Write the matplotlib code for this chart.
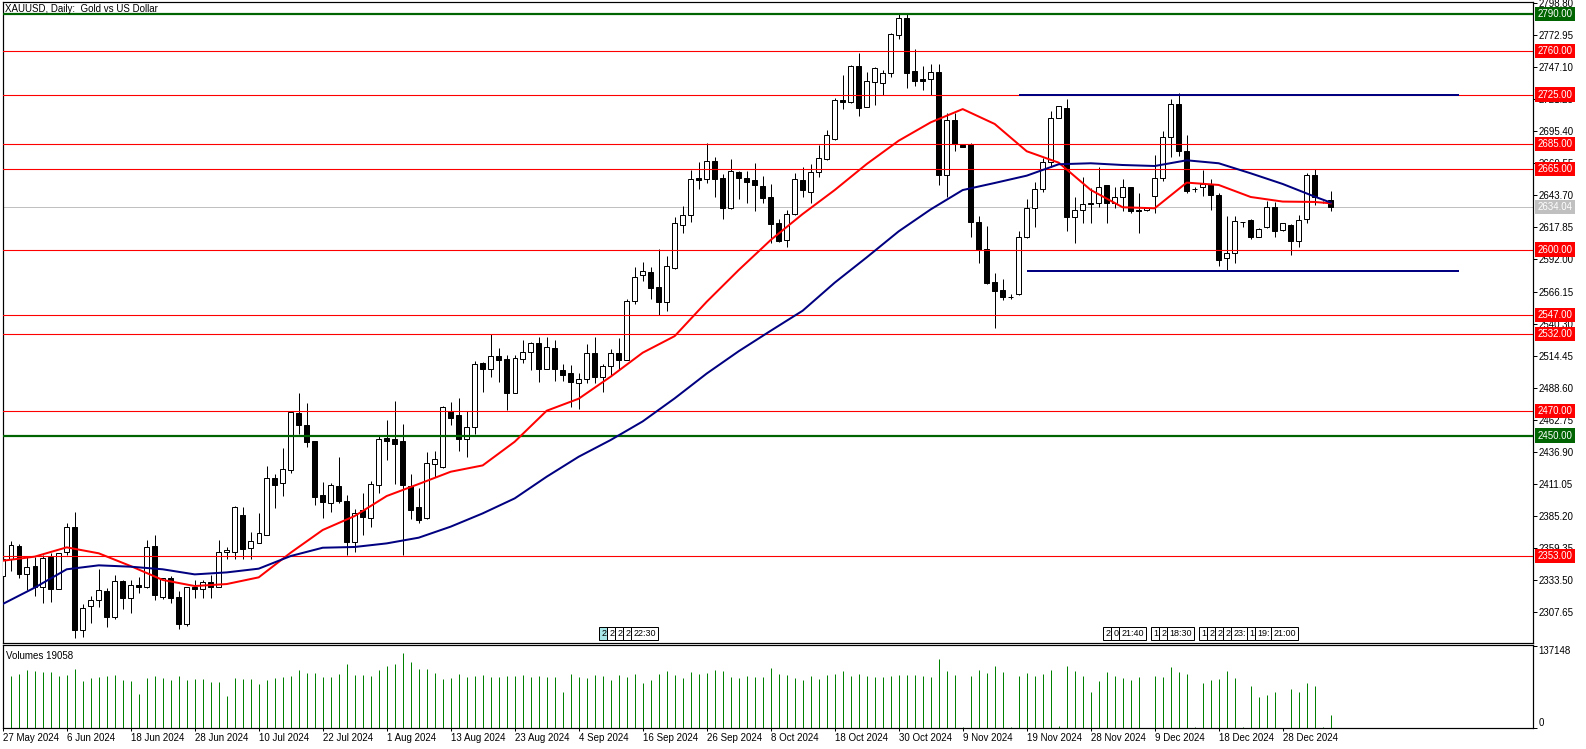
#!/usr/bin/env python3

import numpy as np
import matplotlib
matplotlib.use("Agg")
import matplotlib.pyplot as plt
import matplotlib.transforms as mtransforms


# -----------------------------------------------------------------------------
# XAUUSD daily candles with two moving averages, levels and volumes
# (MetaTrader style screenshot)
# -----------------------------------------------------------------------------

# CONFIG
W, H = 1586, 749
FONT = "Liberation Sans"
FS = 7

TITLE = "XAUUSD, Daily:  Gold vs US Dollar"
VOLUME_TITLE = "Volumes 19058"

# daily bars (index 0 = 27 May 2024)
OPEN = [
    2336.7, 2350.7, 2360.9, 2338.0, 2344.7, 2328.1, 2352.0, 2326.5, 2355.8, 2376.2,
    2293.4, 2312.2, 2317.1, 2324.3, 2303.3, 2332.6, 2318.7, 2329.4, 2328.1, 2360.9,
    2320.0, 2334.8, 2320.0, 2297.9, 2327.5, 2326.5, 2331.6, 2328.1, 2355.8, 2355.8,
    2385.9, 2359.5, 2363.6, 2370.0, 2415.7, 2412.0, 2422.4, 2468.2, 2458.5, 2445.6,
    2402.3, 2395.8, 2409.5, 2396.9, 2364.1, 2389.9, 2383.7, 2409.8, 2448.3, 2447.2,
    2445.3, 2409.3, 2392.6, 2383.7, 2427.3, 2424.3, 2469.8, 2466.5, 2447.5, 2456.6,
    2508.2, 2503.4, 2514.1, 2511.7, 2484.5, 2511.4, 2517.6, 2524.3, 2503.9, 2520.6,
    2502.8, 2500.4, 2492.1, 2495.3, 2516.6, 2496.9, 2506.3, 2516.6, 2511.2, 2558.2,
    2579.5, 2581.6, 2569.8, 2557.4, 2584.8, 2619.5, 2627.6, 2657.4, 2656.6, 2671.4,
    2657.7, 2633.8, 2662.5, 2657.7, 2656.1, 2651.2, 2642.4, 2621.1, 2607.7, 2628.7,
    2656.1, 2646.1, 2662.3, 2672.7, 2688.9, 2720.6, 2719.3, 2748.0, 2715.2, 2734.9,
    2734.0, 2742.1, 2772.8, 2786.7, 2744.0, 2737.3, 2737.3, 2743.2, 2660.4, 2704.5,
    2684.3, 2684.8, 2622.2, 2600.2, 2573.8, 2567.4, 2562.0, 2563.9, 2609.9, 2633.3,
    2648.6, 2670.9, 2705.9, 2713.9, 2626.0, 2631.9, 2637.3, 2637.3, 2651.8, 2637.3,
    2642.2, 2650.2, 2632.0, 2631.7, 2643.5, 2657.5, 2691.1, 2717.4, 2679.5, 2648.6,
    2650.2, 2652.6, 2644.0, 2593.0, 2597.0, 2622.5, 2623.9, 2610.4, 2618.0, 2634.1,
    2615.5, 2619.6, 2607.2, 2624.4, 2659.9, 2638.7, 2640.0,
]
HIGH = [
    2352.3, 2365.2, 2362.5, 2352.3, 2352.3, 2353.3, 2354.9, 2355.5, 2379.7, 2388.5,
    2314.1, 2320.5, 2342.6, 2327.0, 2337.2, 2333.4, 2333.4, 2336.1, 2365.7, 2369.7,
    2335.3, 2336.7, 2324.3, 2328.1, 2333.4, 2333.4, 2337.5, 2365.7, 2360.3, 2393.1,
    2392.6, 2372.4, 2387.8, 2425.4, 2418.9, 2439.9, 2469.5, 2484.6, 2475.9, 2445.6,
    2412.2, 2411.4, 2432.9, 2402.0, 2390.5, 2403.9, 2413.3, 2449.6, 2462.5, 2477.8,
    2459.0, 2418.7, 2407.4, 2437.0, 2437.2, 2473.8, 2477.0, 2480.3, 2470.0, 2510.1,
    2509.6, 2532.1, 2520.9, 2514.9, 2514.9, 2527.0, 2525.7, 2529.7, 2529.2, 2527.0,
    2507.7, 2506.9, 2500.7, 2523.8, 2529.7, 2507.7, 2519.5, 2528.9, 2560.1, 2585.7,
    2590.2, 2585.7, 2600.2, 2594.8, 2625.9, 2635.1, 2664.1, 2670.6, 2686.2, 2674.6,
    2660.9, 2673.0, 2663.6, 2663.1, 2669.8, 2659.3, 2652.9, 2624.3, 2631.9, 2662.0,
    2666.8, 2669.2, 2684.6, 2696.4, 2722.2, 2740.8, 2748.8, 2758.8, 2743.2, 2747.5,
    2744.8, 2774.4, 2790.0, 2790.0, 2761.7, 2748.0, 2749.6, 2749.6, 2709.8, 2709.8,
    2685.4, 2686.2, 2627.0, 2618.9, 2580.8, 2576.0, 2563.9, 2615.0, 2640.5, 2654.8,
    2673.6, 2711.8, 2715.8, 2721.5, 2642.2, 2658.3, 2649.4, 2666.4, 2652.4, 2650.8,
    2656.7, 2650.8, 2645.4, 2633.6, 2676.0, 2695.4, 2721.5, 2726.0, 2692.4, 2650.8,
    2664.2, 2656.7, 2645.9, 2627.0, 2627.0, 2622.5, 2624.4, 2617.2, 2639.5, 2638.7,
    2621.7, 2620.4, 2627.9, 2661.5, 2664.7, 2639.5, 2647.5,
]
LOW = [
    2334.8, 2341.0, 2334.8, 2325.4, 2320.5, 2315.2, 2316.0, 2325.9, 2353.9, 2286.9,
    2287.8, 2298.5, 2311.4, 2295.8, 2301.7, 2310.3, 2307.1, 2322.7, 2326.7, 2317.3,
    2317.9, 2315.2, 2294.2, 2296.3, 2318.7, 2318.7, 2318.7, 2327.5, 2350.1, 2350.1,
    2350.1, 2350.1, 2363.0, 2369.5, 2391.5, 2401.2, 2420.0, 2451.2, 2441.0, 2394.2,
    2383.7, 2388.6, 2395.8, 2353.6, 2356.3, 2369.8, 2376.5, 2403.4, 2430.3, 2410.9,
    2353.6, 2382.4, 2379.2, 2382.4, 2416.8, 2423.8, 2458.5, 2437.8, 2432.4, 2451.2,
    2485.1, 2497.5, 2493.4, 2470.6, 2484.0, 2508.8, 2502.8, 2493.4, 2503.4, 2494.2,
    2494.2, 2473.3, 2471.7, 2492.1, 2492.6, 2485.1, 2498.8, 2502.8, 2510.6, 2556.3,
    2574.9, 2560.4, 2547.2, 2550.7, 2584.0, 2613.6, 2622.2, 2649.1, 2653.9, 2642.6,
    2624.3, 2632.4, 2641.0, 2637.3, 2631.3, 2637.3, 2605.0, 2606.1, 2602.3, 2627.8,
    2642.6, 2637.8, 2658.2, 2672.2, 2688.3, 2713.6, 2718.5, 2708.0, 2714.7, 2716.8,
    2724.9, 2739.4, 2770.1, 2730.3, 2731.9, 2728.7, 2724.9, 2652.3, 2642.6, 2679.7,
    2682.4, 2610.4, 2589.4, 2572.2, 2536.4, 2559.3, 2560.2, 2563.4, 2609.4, 2618.5,
    2646.7, 2666.4, 2705.9, 2615.3, 2605.1, 2621.2, 2621.2, 2634.1, 2621.7, 2633.6,
    2630.9, 2629.8, 2613.1, 2631.4, 2629.8, 2655.3, 2675.0, 2675.2, 2645.9, 2646.5,
    2643.2, 2632.0, 2586.8, 2583.5, 2589.5, 2618.5, 2608.3, 2609.9, 2617.4, 2610.4,
    2615.3, 2595.9, 2602.4, 2621.2, 2636.0, 2637.8, 2631.1,
]
CLOSE = [
    2350.1, 2361.7, 2338.0, 2343.7, 2328.1, 2350.9, 2326.5, 2354.9, 2376.2, 2293.4,
    2310.6, 2317.1, 2325.4, 2303.9, 2332.4, 2319.2, 2329.1, 2328.1, 2359.8, 2321.3,
    2334.8, 2319.2, 2297.9, 2327.5, 2326.5, 2331.6, 2328.1, 2356.0, 2357.6, 2392.1,
    2358.7, 2364.9, 2371.4, 2415.4, 2410.3, 2422.7, 2469.0, 2458.5, 2445.0, 2400.7,
    2396.4, 2410.1, 2397.2, 2364.4, 2387.2, 2384.6, 2410.6, 2446.9, 2445.8, 2443.2,
    2410.1, 2389.9, 2381.9, 2427.6, 2430.8, 2473.0, 2464.4, 2447.5, 2456.6, 2507.4,
    2503.9, 2513.9, 2510.9, 2484.5, 2512.3, 2517.6, 2524.3, 2503.9, 2521.1, 2503.4,
    2499.1, 2492.9, 2495.3, 2516.6, 2496.9, 2505.8, 2516.3, 2511.2, 2558.5, 2577.6,
    2582.7, 2569.3, 2557.9, 2586.7, 2621.1, 2627.8, 2656.6, 2656.1, 2671.4, 2657.1,
    2633.8, 2663.3, 2657.9, 2654.7, 2652.3, 2641.8, 2620.9, 2606.6, 2628.7, 2656.6,
    2647.7, 2662.3, 2673.8, 2692.1, 2720.6, 2718.7, 2748.0, 2714.4, 2735.9, 2746.4,
    2742.1, 2773.8, 2786.7, 2742.6, 2735.7, 2736.2, 2743.2, 2660.4, 2704.2, 2685.4,
    2683.0, 2621.9, 2599.6, 2573.3, 2566.8, 2562.0, 2562.0, 2609.9, 2633.3, 2648.6,
    2670.9, 2705.9, 2715.8, 2626.0, 2631.9, 2636.8, 2636.5, 2650.2, 2637.3, 2642.2,
    2650.2, 2631.4, 2630.9, 2633.3, 2657.5, 2691.1, 2717.4, 2679.3, 2647.5, 2648.6,
    2652.6, 2643.8, 2591.6, 2597.0, 2622.8, 2622.5, 2610.4, 2616.3, 2634.1, 2615.3,
    2621.2, 2607.2, 2623.6, 2659.9, 2642.2, 2638.7, 2634.0,
]

# tick volumes, thousands
VOLUME_K = [
    88, 87, 90, 97, 95, 94, 94, 87, 89, 99,
    79, 84, 85, 87, 89, 80, 79, 57, 84, 87,
    84, 80, 87, 80, 82, 82, 77, 77, 53, 84,
    82, 82, 74, 80, 84, 85, 87, 97, 92, 92,
    85, 85, 90, 107, 89, 89, 87, 97, 104, 107,
    125, 110, 99, 99, 92, 82, 84, 90, 85, 87,
    89, 85, 85, 87, 87, 89, 85, 87, 85, 85,
    60, 90, 85, 84, 89, 87, 80, 89, 85, 90,
    75, 80, 90, 95, 89, 84, 94, 90, 92, 97,
    95, 85, 84, 87, 85, 85, 100, 90, 89, 84,
    80, 87, 82, 89, 90, 95, 87, 90, 87, 85,
    85, 87, 89, 89, 89, 87, 85, 115, 95, 89,
    1.7, 87, 97, 92, 104, 94, 2, 87, 92, 87,
    90, 97, 3, 104, 95, 87, 61, 79, 94, 87,
    84, 80, 85, 0.5, 87, 85, 102, 94, 90, 2,
    75, 80, 82, 95, 84, 2, 71, 52, 55, 60,
    0.5, 65, 61, 75, 70, 2, 21,
]

# moving averages
MA_BARS = list(range(0, 165, 4)) + [166]
RED_MA = [
    2349.0, 2352.3, 2359.8, 2355.0, 2344.7, 2333.5, 2328.6, 2330.2, 2335.6, 2355.5,
    2373.8, 2385.1, 2401.2, 2410.9, 2420.8, 2425.9, 2445.0, 2470.0, 2479.7, 2497.5,
    2516.8, 2530.2, 2557.9, 2583.5, 2607.7, 2628.7, 2648.0, 2669.0, 2687.8, 2702.6,
    2713.3, 2701.3, 2679.3, 2670.1, 2648.1, 2634.1, 2633.3, 2654.0, 2652.1, 2642.4,
    2638.7, 2638.4, 2637.3,
]
BLUE_MA = [
    2314.1, 2327.3, 2342.1, 2345.3, 2344.2, 2342.1, 2338.0, 2339.6, 2342.6, 2352.8,
    2359.5, 2360.1, 2363.0, 2367.6, 2376.5, 2387.2, 2399.3, 2416.8, 2432.9, 2446.4,
    2461.4, 2480.0, 2500.0, 2518.0, 2534.5, 2550.7, 2573.3, 2593.7, 2614.7, 2632.4,
    2648.0, 2653.7, 2659.6, 2668.8, 2669.6, 2668.2, 2667.4, 2672.0, 2669.6, 2661.5,
    2652.9, 2642.7, 2637.9,
]

# horizontal levels
RED_LEVELS = [2760.0, 2725.0, 2685.0, 2665.0, 2600.0, 2547.0, 2532.0, 2470.0, 2353.0]
GREEN_LEVELS = [2790.0, 2450.0]
LAST_PRICE = 2634.04

# range box drawn by hand (bar index start/end)
RANGE_TOP = 2725.0
RANGE_BOTTOM = 2583.0
RANGE_TOP_BARS = (127, 182)
RANGE_BOTTOM_BARS = (128, 182)

# price scale labels
PRICE_TICK_LABELS = [
    "2307.65", "2333.50", "2359.35", "2385.20", "2411.05", "2436.90", "2462.75",
    "2488.60", "2514.45", "2540.30", "2566.15", "2592.00", "2617.85", "2643.70",
    "2669.55", "2695.40", "2721.25", "2747.10", "2772.95", "2798.80",
]
VOLUME_TICK_LABELS = ["0", "137148"]

DATE_BARS = list(range(0, 161, 8))
DATE_LABELS = [
    "27 May 2024", "6 Jun 2024", "18 Jun 2024", "28 Jun 2024", "10 Jul 2024",
    "22 Jul 2024", "1 Aug 2024", "13 Aug 2024", "23 Aug 2024", "4 Sep 2024",
    "16 Sep 2024", "26 Sep 2024", "8 Oct 2024", "18 Oct 2024", "30 Oct 2024",
    "9 Nov 2024", "19 Nov 2024", "28 Nov 2024", "9 Dec 2024", "18 Dec 2024",
    "28 Dec 2024",
]

# calendar event markers at the bottom of the price pane
EVENT_BARS = [75, 76, 77, 78, 79, 138, 139, 140, 144, 145, 146,
              150, 151, 152, 153, 154, 156, 157, 159]
EVENT_TEXT = ["2", "2", "2", "2", "22:30", "2", "0", "21:40", "1", "2", "18:30",
              "1", "2", "2", "2", "23:", "1", "19:", "21:00"]

RED = "#ff0000"
GREEN = "#006400"
NAVY = "#000080"
VOL_GREEN = "#008000"

PX = 72.0 / 100.0  # one pixel in points


def px_axes(left, top, right, bottom):
    return [left / W, 1 - bottom / H, (right - left) / W, (bottom - top) / H]


def level_box(ax, y, text, color, tr):
    ax.text(1.0 + 4.5 / 1530, y, text, transform=tr, color="white",
            fontsize=FS, family=FONT, ha="left", va="center", zorder=10,
            clip_on=False,
            bbox=dict(boxstyle="square,pad=0.22", facecolor=color,
                      edgecolor="none"))


def draw_candles(ax):
    o = np.array(OPEN)
    h = np.array(HIGH)
    l = np.array(LOW)
    c = np.array(CLOSE)
    x = np.arange(len(o))
    up = c >= o

    ax.vlines(x, l, h, color="black", linewidth=PX, zorder=2)
    lo = np.minimum(o, c)
    hgt = np.abs(c - o)
    ax.bar(x[up], hgt[up], bottom=lo[up], width=0.55, facecolor="white",
           edgecolor="black", linewidth=PX, zorder=3)
    ax.bar(x[~up], hgt[~up], bottom=lo[~up], width=0.55, facecolor="black",
           edgecolor="black", linewidth=PX, zorder=3)


def main():
    fig = plt.figure(figsize=(W / 100, H / 100), dpi=100)
    fig.patch.set_facecolor("white")

    ax = fig.add_axes(px_axes(3, 2, 1533, 643))
    axv = fig.add_axes(px_axes(3, 645, 1533, 728))

    x0, x1 = 0.0375, 0.0375 + 1530 / 8
    for a in (ax, axv):
        a.set_xlim(x0, x1)
        for s in a.spines.values():
            s.set_linewidth(PX * 1.2)
            s.set_color("black")

    ax.set_ylim(2282.65, 2799.68)
    axv.set_ylim(0, 138820)

    # levels
    for lv in RED_LEVELS:
        ax.axhline(lv, color=RED, linewidth=PX * 1.1, zorder=4)
    for lv in GREEN_LEVELS:
        ax.axhline(lv, color=GREEN, linewidth=PX * 2.2, zorder=4)
    ax.axhline(LAST_PRICE, color="#c0c0c0", linewidth=PX, zorder=1)

    draw_candles(ax)

    # moving averages
    ax.plot(MA_BARS, RED_MA, color=RED, linewidth=PX * 2, zorder=5)
    ax.plot(MA_BARS, BLUE_MA, color=NAVY, linewidth=PX * 2, zorder=5)

    # range lines
    ax.plot(RANGE_TOP_BARS, [RANGE_TOP, RANGE_TOP], color=NAVY,
            linewidth=PX * 2, zorder=6, solid_capstyle="butt")
    ax.plot(RANGE_BOTTOM_BARS, [RANGE_BOTTOM, RANGE_BOTTOM], color=NAVY,
            linewidth=PX * 2, zorder=6, solid_capstyle="butt")

    # price scale
    ax.yaxis.tick_right()
    ax.set_yticks([float(t) for t in PRICE_TICK_LABELS])
    ax.set_yticklabels(PRICE_TICK_LABELS, family=FONT, fontsize=FS)
    ax.tick_params(axis="y", direction="out", length=4 * PX, width=PX,
                   pad=1, colors="black")
    ax.set_xticks([])

    tr = mtransforms.blended_transform_factory(ax.transAxes, ax.transData)
    for lv in RED_LEVELS:
        level_box(ax, lv, f"{lv:.2f}", RED, tr)
    for lv in GREEN_LEVELS:
        level_box(ax, lv, f"{lv:.2f}", GREEN, tr)
    level_box(ax, LAST_PRICE, f"{LAST_PRICE:.2f}", "#c0c0c0", tr)

    ax.text(2 / 1530, 0.989, TITLE, transform=ax.transAxes, family=FONT,
            fontsize=FS, ha="left", va="center", zorder=11)

    # event markers
    for i, (b, t) in enumerate(zip(EVENT_BARS, EVENT_TEXT)):
        fc = "#a8e8e8" if i == 0 else "white"
        ax.text(b - 0.12, 2290.3, t, family=FONT, fontsize=FS - 0.5,
                ha="left", va="center", zorder=9,
                bbox=dict(boxstyle="square,pad=0.25", facecolor=fc,
                          edgecolor="black", linewidth=PX))

    # volumes
    vol = np.array(VOLUME_K) * 1000.0
    axv.vlines(np.arange(len(vol)), 0, vol, color=VOL_GREEN, linewidth=PX)
    axv.yaxis.tick_right()
    axv.set_yticks([float(v) for v in VOLUME_TICK_LABELS])
    axv.set_yticklabels(VOLUME_TICK_LABELS, family=FONT, fontsize=FS)
    axv.tick_params(axis="y", direction="out", length=4 * PX, width=PX, pad=1)
    labs = axv.get_yticklabels()
    labs[0].set_va("bottom")
    labs[1].set_va("top")

    axv.set_xticks(DATE_BARS)
    axv.set_xticklabels(DATE_LABELS, family=FONT, fontsize=FS, ha="left")
    axv.tick_params(axis="x", direction="out", length=3 * PX, width=PX, pad=1.5)

    axv.text(3 / 1530, 0.93, VOLUME_TITLE, transform=axv.transAxes,
             family=FONT, fontsize=FS, ha="left", va="top")

    fig.savefig("out.png", dpi=100)
    plt.close(fig)


if __name__ == "__main__":
    main()
